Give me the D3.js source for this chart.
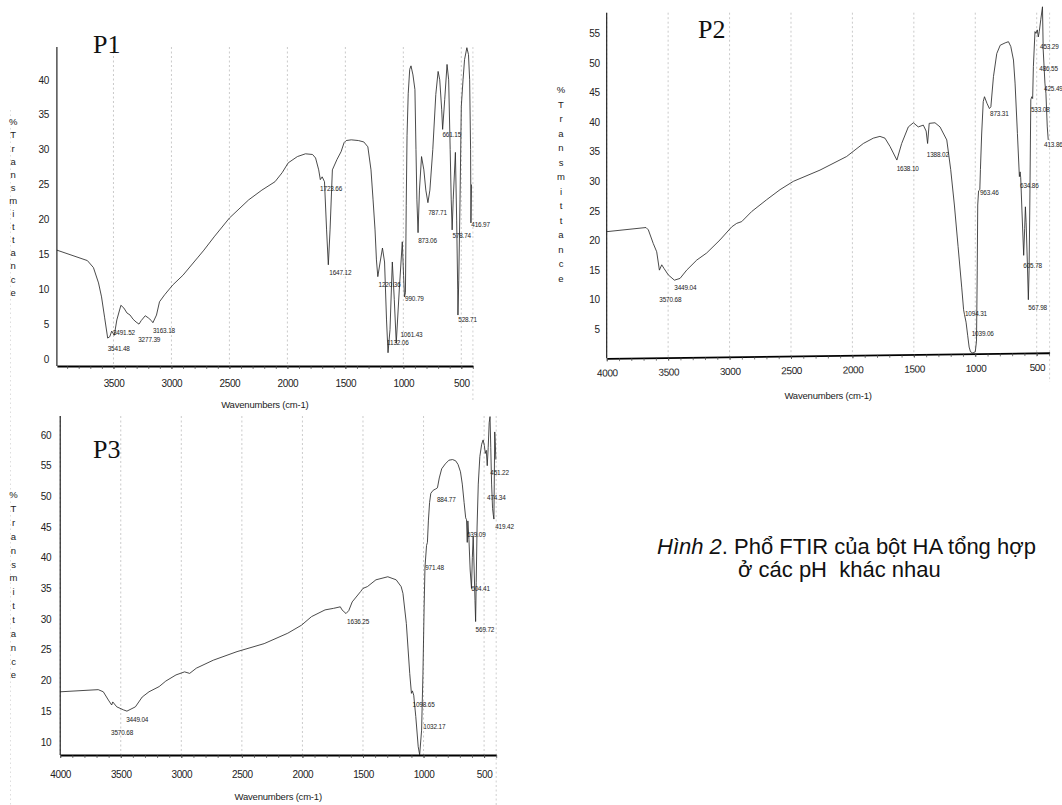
<!DOCTYPE html>
<html><head><meta charset="utf-8">
<script src="https://cdn.jsdelivr.net/npm/d3@7"></script>
<style>body{margin:0;background:#fff}svg{display:block}</style>
</head><body><svg id="c" width="1062" height="805"></svg>
<script>
// ---------------- DATA ----------------
const p1Spectrum = [[3988,15.6],[3725,14.1],[3673,13.1],[3629,10.9],[3603,8.9],[3576,5.9],[3550,3.0],[3532,3.2],[3515,4.0],[3493,3.4],[3471,5.6],[3436,7.7],[3410,7.3],[3384,6.6],[3357,6.3],[3331,5.7],[3305,5.3],[3280,5.0],[3261,5.5],[3226,6.2],[3200,5.9],[3173,5.5],[3160,5.2],[3129,6.3],[3103,8.2],[3059,9.2],[2989,10.6],[2901,12.0],[2770,14.6],[2720,15.6],[2632,17.5],[2500,20.2],[2334,22.8],[2220,24.2],[2107,25.4],[2045,26.7],[1993,28.1],[1914,29.0],[1844,29.4],[1783,29.3],[1757,28.8],[1730,27.1],[1716,25.7],[1700,26.1],[1680,25.4],[1662,18.5],[1647,13.5],[1632,18.5],[1612,27.1],[1572,28.6],[1537,29.7],[1511,31.0],[1493,31.3],[1449,31.4],[1388,31.3],[1341,31.1],[1306,30.4],[1279,27.1],[1261,22.8],[1244,18.5],[1232,14.2],[1220,11.8],[1200,13.9],[1180,15.9],[1162,13.9],[1145,5.6],[1132,0.9],[1115,4.2],[1095,13.9],[1078,8.5],[1061,2.3],[1035,9.9],[1009,16.8],[998,12],[990,8.9],[982,9.5],[975,22],[968,32],[958,38],[945,41.5],[934,42],[917,40.7],[900,38.6],[891,30.0],[883,22.8],[873,18.1],[861,24.2],[843,29.0],[823,27.1],[806,24.2],[788,22.4],[771,24.2],[746,30.0],[720,37.9],[700,41.2],[686,40.0],[669,35.7],[661,32.9],[643,37.2],[623,42.2],[609,40.0],[596,30.0],[587,22.8],[579,18.5],[570,22.8],[551,29.6],[540,19.9],[531,9.9],[529,6.3],[522,11.3],[511,22.8],[500,36.2],[485,40],[472,42.9],[452,44.6],[438,43.6],[428,40],[420,30],[417,19.5],[412,25]];

const p2Spectrum = [[4000,21.5],[3680,22.2],[3661,21.8],[3621,19.5],[3593,18.1],[3571,15.0],[3552,15.9],[3534,15.3],[3499,14.2],[3449,13.3],[3403,13.6],[3349,15.0],[3267,16.7],[3186,17.9],[3078,20.1],[2983,22.3],[2942,22.9],[2901,23.2],[2820,24.9],[2698,26.9],[2589,28.6],[2481,30.0],[2264,31.9],[2047,34.2],[1911,36.4],[1830,37.3],[1776,37.6],[1735,37.3],[1694,35.9],[1638,33.6],[1599,36.4],[1545,39.2],[1504,39.9],[1464,39.2],[1423,39.5],[1400,38.5],[1388,36.4],[1375,39.8],[1328,39.9],[1287,39.2],[1232,37.0],[1200,32],[1170,26],[1140,19],[1110,12],[1095,8.3],[1088,7.5],[1075,6.2],[1062,4],[1050,2],[1039,1.2],[1020,1.0],[1000,1.2],[990,3],[984,15],[980,26],[973,28.4],[963,28.6],[958,32],[948,38],[935,43.5],[925,44.3],[905,43.2],[885,42.3],[873,42.6],[852,47.7],[825,51.6],[797,53.0],[757,53.4],[730,53.6],[711,52.8],[689,50.5],[676,46.6],[657,38.1],[641,30.8],[635,31.6],[630,30.6],[620,25],[606,17.5],[598,22],[592,25.7],[586,23],[576,16.2],[568,10.0],[562,15],[556,26],[548,43.8],[540,44.3],[533,44],[527,49.4],[514,55.3],[506,55.0],[495,55.6],[487,54.4],[479,55.3],[467,57.3],[453,59.5],[447,52.2],[433,46.6],[425,44.9],[414,39.2],[406,37.0]];

const p3Spectrum = [[4000,18.15],[3686,18.5],[3644,18.15],[3602,16.8],[3575,16.0],[3566,16.5],[3533,15.7],[3477,15.2],[3449,15.0],[3379,15.7],[3323,17.3],[3267,18.15],[3183,19.0],[3128,19.9],[3044,20.9],[2973,21.4],[2931,21.15],[2876,22.0],[2736,23.3],[2540,24.7],[2316,26.0],[2121,27.7],[2008,29.0],[1925,30.4],[1813,31.5],[1743,31.75],[1687,32.0],[1673,31.5],[1640,30.9],[1617,31.4],[1589,32.8],[1519,34.5],[1500,35.0],[1463,35.3],[1393,36.4],[1295,36.9],[1226,36.4],[1185,35.3],[1170,34.2],[1142,29.3],[1114,21.15],[1100,17.9],[1092,18.3],[1081,17.6],[1064,14.1],[1044,9.2],[1032,7.9],[1016,11.9],[1005,21],[995,32],[988,38.5],[975,42.0],[968,42.5],[960,46],[950,49],[940,50.5],[920,51.0],[900,51.2],[885,51.4],[870,53.0],[850,54.5],[820,55.3],[790,55.9],[760,56.0],[735,55.8],[715,55.2],[695,54.0],[680,52.0],[665,49.0],[652,46.5],[645,46.2],[639,42.5],[634,46.0],[625,43],[615,38],[604,35.0],[597,40],[590,43.5],[582,38],[575,33],[570,29.6],[565,36],[558,45],[548,52],[535,56.5],[520,58.5],[508,59.2],[498,58.3],[490,57.0],[482,57.5],[474,55.0],[466,58],[458,62],[451,63.0],[445,58],[438,52],[430,48],[424,47],[419,46.3],[416,52],[412,60.5],[408,59],[403,56]];

// peak labels: [text, wavenumber at text start, %T at text middle]
const p1Peaks = [["3541.48",3550,1.4],["3491.52",3505,3.8],["3277.39",3287,2.8],["3163.18",3160,4.1],["1723.66",1718,24.4],["1647.12",1639,12.4],["1220.36",1214,10.7],["1132.06",1140,2.3],["1061.43",1025,3.5],["990.79",985,8.6],["873.06",872,16.9],["787.71",786,21],["661.15",663,32.1],["578.74",577,17.6],["528.71",526,5.6],["416.97",414,19.3]];
const p2Peaks = [["3570.68",3572,10.0],["3449.04",3450,12.1],["1638.10",1640,32.1],["1388.02",1395,34.5],["1094.31",1084,7.6],["1039.06",1029,4.2],["963.46",962,28.1],["873.31",880,41.5],["634.86",636,29.2],["605.78",609,15.7],["567.98",568,8.7],["533.08",547,42.1],["486.55",479,49.1],["453.29",473,52.8],["425.49",440,45.7],["413.86",440,36.1]];
const p3Peaks = [["3570.68",3580,11.5],["3449.04",3455,13.65],["1636.25",1631,29.6],["1098.65",1091,16.1],["1032.17",1002,12.4],["971.48",986,38.3],["884.77",889,49.4],["639.09",642,43.7],["604.41",606,35.0],["569.72",570,28.2],["474.34",476,49.8],["451.22",449,53.8],["419.42",408,45.0]];

const p1XTicks = [3500,3000,2500,2000,1500,1000,500];
const p2XTicks = [4000,3500,3000,2500,2000,1500,1000,500];
const p3XTicks = [4000,3500,3000,2500,2000,1500,1000,500];
const p1YTicks = [0,5,10,15,20,25,30,35,40];
const p2YTicks = [5,10,15,20,25,30,35,40,45,50,55];
const p3YTicks = [10,15,20,25,30,35,40,45,50,55,60];

const panelTitles = ["P1","P2","P3"];
const yAxisTitle = "%Transmittance";
const xAxisTitle = "Wavenumbers (cm-1)";
const captionItalic = "Hình 2";
const captionRest = ". Phổ FTIR của bột HA tổng hợp";
const captionLine2 = "ở các pH  khác nhau";

// ---------------- LAYOUT ----------------
const panels = [
  {title:panelTitles[0], data:p1Spectrum, peaks:p1Peaks, xTicks:p1XTicks, yTicks:p1YTicks,
   xDomain:[3988,400], yDomain:[-1,44.7], left:56.9, right:472.9, top:47, bottom:366,
   titlePos:[93,53], xLabelY:405, tickPad:11, yPad:8, letters:[13.2,122,13.1], extendTo:400, tilt:0},
  {title:panelTitles[1], data:p2Spectrum, peaks:p2Peaks, xTicks:p2XTicks, yTicks:p2YTicks,
   xDomain:[4000,395], yDomain:[0.1,58.5], left:606.7, right:1049.6, top:12.7, bottom:358.3,
   titlePos:[698,38], xLabelY:396, tickPad:8, yPad:7, letters:[561,90,14.5], extendTo:382, tilt:-0.72},
  {title:panelTitles[2], data:p3Spectrum, peaks:p3Peaks, xTicks:p3XTicks, yTicks:p3YTicks,
   xDomain:[4000,400], yDomain:[7.85,63.1], left:60.2, right:496.2, top:416, bottom:755,
   titlePos:[93,458], xLabelY:797, tickPad:13, yPad:9, letters:[13.5,495,13.85], extendTo:805, tilt:0}
];

const svg = d3.select("#c");
svg.append("rect").attr("width",1062).attr("height",805).attr("fill","#fff");
const FONT = "'Liberation Sans', Arial, sans-serif";

// faint scan line to the left
svg.append("line").attr("x1",10.5).attr("x2",10.5).attr("y1",110).attr("y2",805)
  .attr("stroke","#d4d4d4").attr("stroke-width",0.8).attr("stroke-dasharray","1.5,3");

panels.forEach(p => {
  const g = svg.append("g");
  const x = d3.scaleLinear().domain(p.xDomain).range([p.left, p.right]);
  const y = d3.scaleLinear().domain(p.yDomain).range([p.bottom, p.top]);

  // vertical dotted grid lines
  const gridVals = p.xTicks.filter(v => v <= p.xDomain[0] && v >= p.xDomain[1]);
  g.selectAll("line.grid").data(gridVals).join("line")
    .attr("x1", d => x(d)).attr("x2", d => x(d))
    .attr("y1", p.top).attr("y2", p.bottom)
    .attr("stroke","#bdbdbd").attr("stroke-width",0.8).attr("stroke-dasharray","2,2.5");
  g.append("line").attr("x1", x(p.xDomain[1])).attr("x2", x(p.xDomain[1]))
    .attr("y1", p.top).attr("y2", p.extendTo)
    .attr("stroke","#c4c4c4").attr("stroke-width",0.8).attr("stroke-dasharray","2,2.5");

  // spectrum
  g.append("path").datum(p.data)
    .attr("d", d3.line().x(d => x(d[0])).y(d => y(d[1])))
    .attr("fill","none").attr("stroke","#2b2b2b").attr("stroke-width",0.85)
    .attr("stroke-linejoin","round");

  // peak labels
  g.selectAll("text.pk").data(p.peaks).join("text")
    .attr("x", d => x(d[1])).attr("y", d => y(d[2])).attr("dy","0.35em")
    .attr("font-family", FONT).attr("font-size", 6.4).attr("fill","#222")
    .attr("letter-spacing", -0.15)
    .text(d => d[0]);

  // y axis
  const ya = g.append("g").attr("transform", `translate(${p.left},0)`)
    .call(d3.axisLeft(y).tickValues(p.yTicks).tickSize(0).tickPadding(p.yPad).tickFormat(d3.format("d")));
  ya.select(".domain").attr("d", `M0,${p.top}V${p.bottom}`).attr("stroke","#111").attr("stroke-width",1.1);
  ya.selectAll("text").attr("font-family", FONT).attr("font-size", 10).attr("fill","#222").attr("letter-spacing",-0.4);

  // x axis (minor + major)
  const axG = g.append("g").attr("transform", `rotate(${p.tilt},${p.left},${p.bottom})`);
  const minor = d3.range(4000, 350, -100).filter(v => v <= p.xDomain[0] && v >= p.xDomain[1]);
  const xm = axG.append("g").attr("transform", `translate(0,${p.bottom})`)
    .call(d3.axisBottom(x).tickValues(minor).tickSize(3).tickSizeOuter(0).tickFormat(""));
  xm.select(".domain").attr("stroke","#000").attr("stroke-width",1.8);
  xm.selectAll(".tick line").attr("stroke","#444").attr("stroke-width",0.7);
  const xa = axG.append("g").attr("transform", `translate(0,${p.bottom})`)
    .call(d3.axisBottom(x).tickValues(p.xTicks).tickSize(3).tickSizeOuter(0).tickPadding(p.tickPad).tickFormat(d3.format("d")));
  xa.select(".domain").remove();
  xa.selectAll(".tick line").attr("stroke","#444").attr("stroke-width",0.7);
  xa.selectAll("text").attr("font-family", FONT).attr("font-size", 10).attr("fill","#222").attr("letter-spacing",-0.4);

  // x axis title
  g.append("text").attr("x", (p.left + p.right) / 2).attr("y", p.xLabelY).attr("dy","0.35em")
    .attr("text-anchor","middle").attr("font-family", FONT).attr("font-size", 9.5)
    .attr("fill","#222").attr("letter-spacing",-0.2).text(xAxisTitle);

  // vertical stacked y title
  g.selectAll("text.yl").data(yAxisTitle.split("")).join("text")
    .attr("x", p.letters[0]).attr("y", (d,i) => p.letters[1] + i * p.letters[2]).attr("dy","0.35em")
    .attr("text-anchor","middle").attr("font-family", FONT).attr("font-size", 9.5).attr("fill","#222")
    .text(d => d);

  // panel title
  g.append("text").attr("x", p.titlePos[0]).attr("y", p.titlePos[1])
    .attr("font-family","'Liberation Serif','Times New Roman',serif").attr("font-size",26)
    .attr("fill","#111").text(p.title);
});

// caption
const cap = svg.append("text").attr("x",657).attr("y",554)
  .attr("font-family", FONT).attr("font-size",22).attr("fill","#111").style("white-space","pre");
cap.append("tspan").attr("font-style","italic").text(captionItalic);
cap.append("tspan").text(captionRest);
svg.append("text").attr("x",738).attr("y",577).attr("font-family", FONT).attr("font-size",22)
  .attr("fill","#111").style("white-space","pre").text(captionLine2);
</script></body></html>
